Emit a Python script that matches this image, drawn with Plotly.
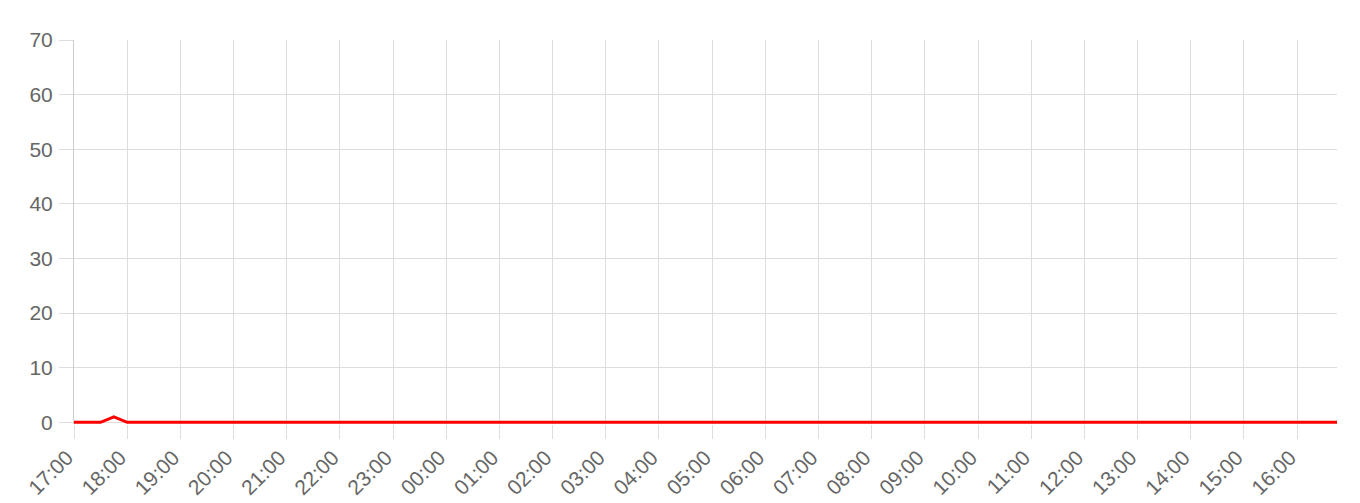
from datetime import datetime, timedelta

import plotly.graph_objects as go

# 15-minute samples, 17:00 to 16:45 the next day
start = datetime(2024, 1, 1, 17, 0)
times = [start + timedelta(minutes=15 * i) for i in range(96)]
counts = [0, 0, 0, 1] + [0] * 92

tick_times = [start + timedelta(hours=h) for h in range(24)]
tick_labels = [t.strftime("%H:%M") for t in tick_times]

y_ticks = [0, 10, 20, 30, 40, 50, 60, 70]

grid_color = "#dddddd"
text_color = "#666666"

fig = go.Figure(
    go.Scatter(
        x=times,
        y=counts,
        mode="lines",
        line=dict(color="#ff0000", width=3, shape="linear"),
        hoverinfo="x+y",
    )
)

# page body adds an 8px offset, so margins are trimmed by that amount
fig.update_layout(
    width=1360,
    height=503,
    margin=dict(l=66, r=31, t=32, b=87),
    paper_bgcolor="white",
    plot_bgcolor="white",
    showlegend=False,
    font=dict(family="Liberation Sans, Arial, sans-serif", size=21, color=text_color),
)

fig.update_xaxes(
    range=[times[0], times[-1]],
    tickvals=tick_times,
    ticktext=tick_labels,
    tickangle=-45,
    ticklabelshift=-7,
    ticklabelstandoff=-2,
    showgrid=True,
    gridcolor=grid_color,
    gridwidth=1,
    ticks="outside",
    ticklen=14,
    tickcolor=grid_color,
    showline=False,
    zeroline=False,
    automargin=False,
)

fig.update_yaxes(
    range=[-0.3, 70],
    tickvals=y_ticks,
    showgrid=True,
    gridcolor=grid_color,
    gridwidth=1,
    ticks="outside",
    ticklen=14,
    tickcolor=grid_color,
    showline=True,
    linecolor="#cccccc",
    zeroline=False,
    ticklabelstandoff=2,
    automargin=False,
)

fig.write_html("out.html")
